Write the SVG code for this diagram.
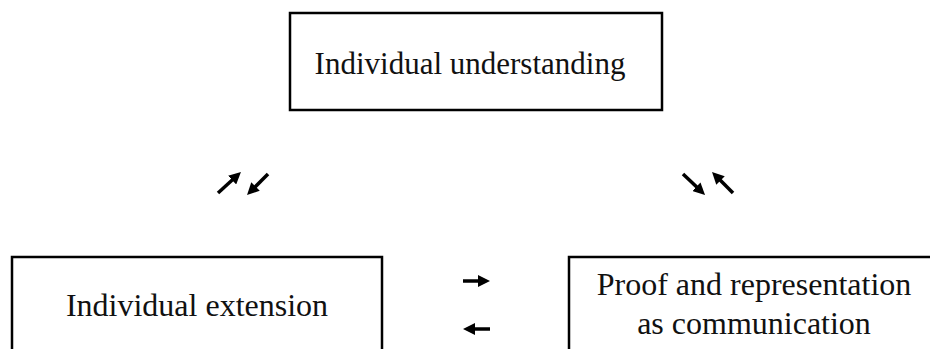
<svg xmlns="http://www.w3.org/2000/svg" width="930" height="349" viewBox="0 0 930 349">
<defs>
<style>
.box{fill:#fff;stroke:#000;stroke-width:2.5}
.lbl{font-family:"Liberation Serif","Times New Roman",serif;font-size:32px;fill:#111;text-anchor:middle}
.top{font-size:31px}
.arr{stroke:#000;stroke-width:3.5;fill:none;marker-end:url(#head)}
</style>
<marker id="head" markerUnits="userSpaceOnUse" markerWidth="13" markerHeight="12" refX="2" refY="6" orient="auto">
<path d="M0,0 L12,6 L0,12 z" fill="#000"/>
</marker>
</defs>
<rect width="930" height="349" fill="#fff"/>
<g id="node-understanding">
<rect class="box" x="290" y="13" width="372" height="97"/>
<text class="lbl top" x="470" y="74">Individual understanding</text>
</g>
<g id="node-extension">
<rect class="box" x="12" y="257" width="370" height="120"/>
<text class="lbl" x="197" y="316">Individual extension</text>
</g>
<g id="node-proof">
<rect class="box" x="569" y="257" width="400" height="120"/>
<text class="lbl" x="754" y="295">Proof and representation</text>
<text class="lbl" x="754" y="334">as communication</text>
</g>
<g id="connectors">
<line class="arr" x1="218" y1="193" x2="233.6" y2="178.7"/>
<line class="arr" x1="268" y1="174" x2="254.1" y2="187.9"/>
<line class="arr" x1="683" y1="174" x2="697.8" y2="188.1"/>
<line class="arr" x1="733" y1="193" x2="719.1" y2="179.1"/>
<line class="arr" x1="463" y1="281" x2="480" y2="281"/>
<line class="arr" x1="490" y1="329" x2="473" y2="329"/>
</g>
</svg>
